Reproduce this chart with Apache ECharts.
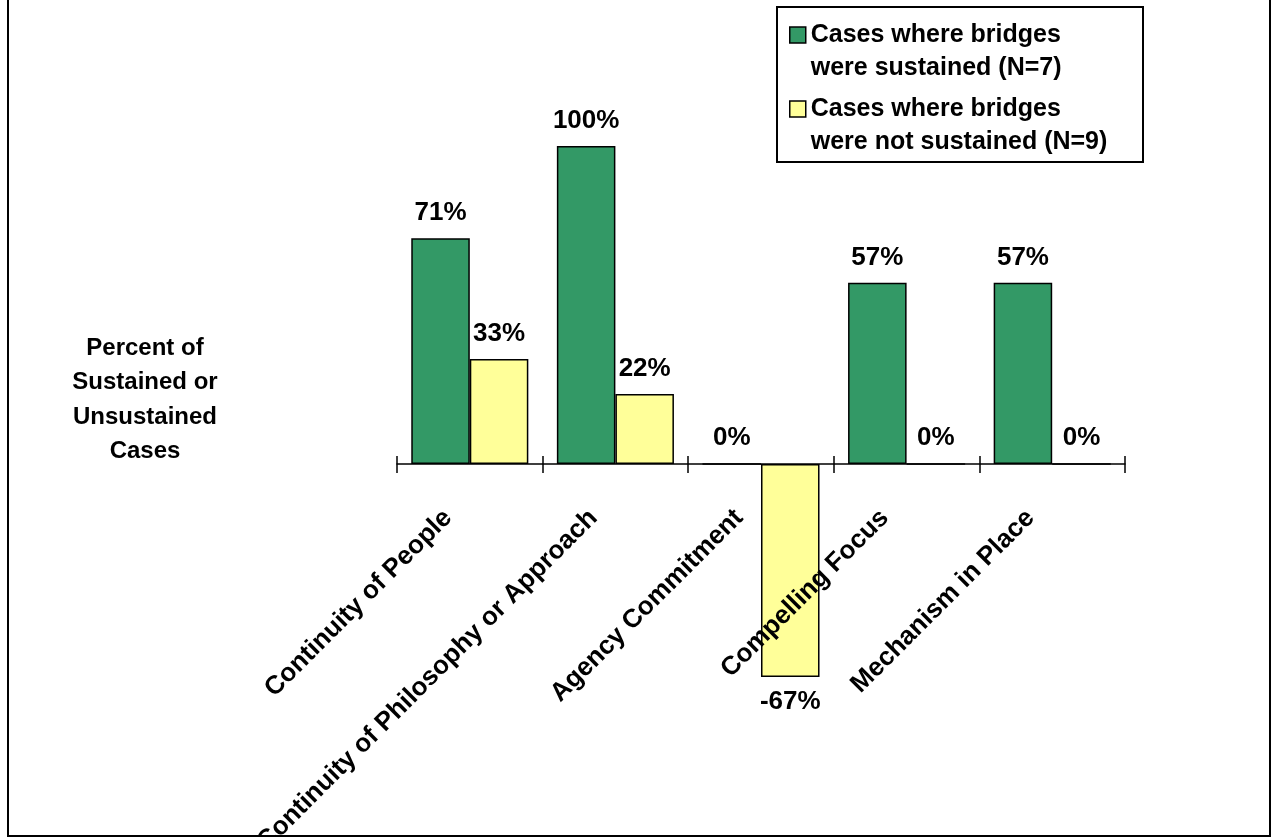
<!DOCTYPE html>
<html>
<head>
<meta charset="utf-8">
<script src="https://cdn.jsdelivr.net/npm/echarts@6/dist/echarts.min.js"></script>
<style>
  html, body { margin: 0; padding: 0; background: #fff; }
  #wrap { position: relative; width: 1271px; height: 837px; overflow: hidden; background: #fff; }
  #frame { position: absolute; left: 7px; top: -10px; width: 1260px; height: 843px; border: 2px solid #000; box-sizing: content-box; }
  #chart { position: absolute; left: 0; top: 0; width: 1271px; height: 837px; }
</style>
</head>
<body>
<div id="wrap">
  <div id="frame"></div>
  <div id="chart"></div>
</div>
<script>
// ---- data ----
var categories = [
  'Continuity of People',
  'Continuity of Philosophy or Approach',
  'Agency Commitment',
  'Compelling Focus',
  'Mechanism in Place'
];
var seriesNames = [
  'Cases where bridges\nwere sustained (N=7)',
  'Cases where bridges\nwere not sustained (N=9)'
];
var sustained = [71, 100, 0, 57, 57];
var notSustained = [33, 22, -67, 0, 0];
var yAxisTitle = 'Percent of\nSustained or\nUnsustained\nCases';

// ---- chart ----
var FONT = '"Liberation Sans", Arial, sans-serif';
var chart = echarts.init(document.getElementById('chart'), null, { renderer: 'canvas' });

function toItems(arr) {
  return arr.map(function (v) {
    return v < 0 ? { value: v, label: { position: 'bottom' } } : { value: v };
  });
}

var labelStyle = {
  show: true,
  position: 'top',
  distance: 11,
  formatter: '{c}%',
  color: '#000',
  fontFamily: FONT,
  fontWeight: 'bold',
  fontSize: 26,
  lineHeight: 28
};

var option = {
  animation: false,
  backgroundColor: 'transparent',
  // zero line sits on the grid bottom; the negative bar extends below it (clip off)
  grid: { left: 397, right: 146, top: 146, bottom: 373, containLabel: false, outerBoundsMode: 'none' },
  graphic: [
    {
      type: 'rect',
      shape: { x: 777, y: 7, width: 366, height: 155 },
      style: { fill: '#fff', stroke: '#000', lineWidth: 2 },
      z: -1
    },
    {
      type: 'text',
      x: 145,
      y: 400,
      style: {
        text: yAxisTitle,
        fill: '#000',
        font: 'bold 24px ' + FONT,
        lineHeight: 34.5,
        align: 'center',
        verticalAlign: 'middle'
      }
    }
  ],
  legend: {
    orient: 'vertical',
    left: 789,
    top: -14.5,
    padding: 0,
    itemGap: -25,
    itemWidth: 16,
    itemHeight: 16,
    icon: 'rect',
    selectedMode: false,
    itemStyle: { borderColor: '#000', borderWidth: 1.5 },
    formatter: function (name) { return '\n' + name; },
    textStyle: {
      color: '#000',
      fontFamily: FONT,
      fontWeight: 'bold',
      fontSize: 25,
      lineHeight: 33
    },
    data: seriesNames
  },
  xAxis: [
    {
      type: 'category',
      position: 'bottom',
      z: 5,
      data: categories,
      axisLine: { show: true, onZero: false, lineStyle: { color: '#000', width: 1.5 } },
      axisTick: { show: true, interval: 0, length: 9, lineStyle: { color: '#000', width: 1.5 } },
      axisLabel: {
        interval: 0,
        rotate: 45,
        margin: 28,
        padding: [0, 31, 0, 0],
        color: '#000',
        fontFamily: FONT,
        fontWeight: 'bold',
        fontSize: 26
      },
      splitLine: { show: false }
    },
    {
      type: 'category',
      position: 'bottom',
      z: 5,
      data: categories,
      axisLine: { show: false, onZero: false },
      axisTick: { show: true, interval: 0, inside: true, length: 8, lineStyle: { color: '#000', width: 1.5 } },
      axisLabel: { show: false },
      splitLine: { show: false }
    }
  ],
  yAxis: {
    type: 'value',
    min: 0,
    max: 100,
    interval: 50,
    axisLine: { show: false },
    axisTick: { show: false },
    axisLabel: { show: false },
    splitLine: { show: false }
  },
  series: [
    {
      name: seriesNames[0],
      type: 'bar',
      xAxisIndex: 0,
      clip: false,
      data: toItems(sustained),
      barGap: '0%',
      barCategoryGap: '19.6%',
      itemStyle: { color: '#339966', borderColor: '#000', borderWidth: 1.5 },
      label: labelStyle
    },
    {
      name: seriesNames[1],
      type: 'bar',
      xAxisIndex: 0,
      clip: false,
      data: toItems(notSustained),
      barGap: '0%',
      barCategoryGap: '19.6%',
      itemStyle: { color: '#FFFF99', borderColor: '#000', borderWidth: 1.5 },
      label: labelStyle
    }
  ]
};
chart.setOption(option);
</script>
</body>
</html>
